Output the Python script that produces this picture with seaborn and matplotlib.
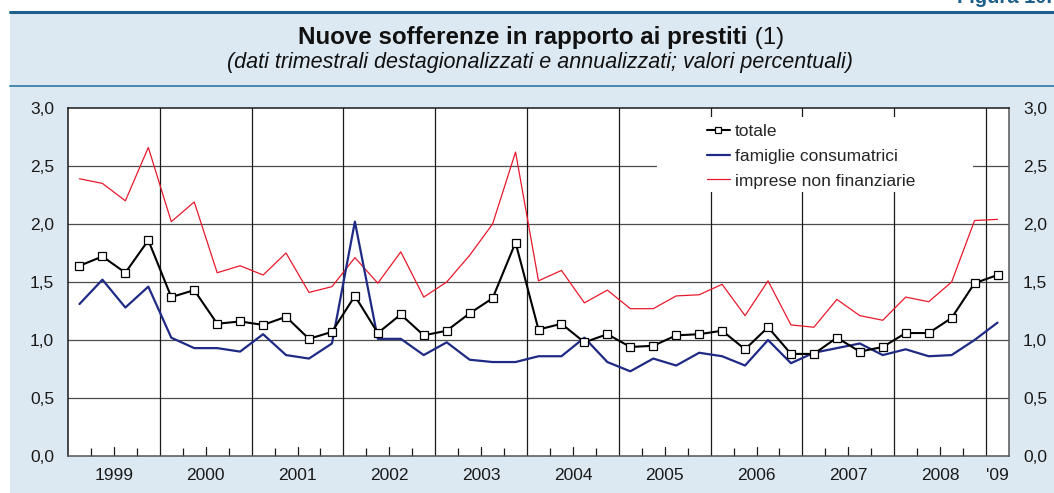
import numpy as np
import pandas as pd
import matplotlib
matplotlib.use("Agg")
import matplotlib.pyplot as plt
from matplotlib import font_manager
from matplotlib.patches import Rectangle
from matplotlib.lines import Line2D
import seaborn as sns

# --- data: quarterly series, 1999 Q1 - 2009 Q1 -----------------------------
years = [1999, 2000, 2001, 2002, 2003, 2004, 2005, 2006, 2007, 2008, 2009]
year_labels = ["1999", "2000", "2001", "2002", "2003", "2004",
               "2005", "2006", "2007", "2008", "'09"]
quarters = [f"{y}T{q}" for y in years for q in (1, 2, 3, 4)][:41]

totale = [1.64, 1.72, 1.58, 1.86, 1.37, 1.43, 1.14, 1.16, 1.13, 1.20, 1.01,
          1.07, 1.38, 1.06, 1.22, 1.04, 1.08, 1.23, 1.36, 1.84, 1.09, 1.14,
          0.98, 1.05, 0.94, 0.95, 1.04, 1.05, 1.08, 0.92, 1.11, 0.88, 0.88,
          1.02, 0.90, 0.94, 1.06, 1.06, 1.19, 1.49, 1.56]
famiglie = [1.31, 1.52, 1.28, 1.46, 1.02, 0.93, 0.93, 0.90, 1.05, 0.87, 0.84,
            0.97, 2.02, 1.01, 1.01, 0.87, 0.98, 0.83, 0.81, 0.81, 0.86, 0.86,
            1.02, 0.81, 0.73, 0.84, 0.78, 0.89, 0.86, 0.78, 1.00, 0.80, 0.89,
            0.93, 0.97, 0.87, 0.92, 0.86, 0.87, 1.00, 1.15]
imprese = [2.39, 2.35, 2.20, 2.66, 2.02, 2.19, 1.58, 1.64, 1.56, 1.75, 1.41,
           1.46, 1.71, 1.49, 1.76, 1.37, 1.50, 1.73, 2.00, 2.62, 1.51, 1.60,
           1.32, 1.43, 1.27, 1.27, 1.38, 1.39, 1.48, 1.21, 1.51, 1.13, 1.11,
           1.35, 1.21, 1.17, 1.37, 1.33, 1.50, 2.03, 2.04]
series_names = ["totale", "famiglie consumatrici", "imprese non finanziarie"]

n = len(quarters)
df = pd.DataFrame({
    "trimestre": np.tile(np.arange(n) + 0.5, 3),
    "valore": totale + famiglie + imprese,
    "serie": np.repeat(series_names, n),
})

# --- styling ----------------------------------------------------------------
sns.set_theme(style="white")
installed = {f.name for f in font_manager.fontManager.ttflist}
base_font = "Liberation Sans" if "Liberation Sans" in installed else "DejaVu Sans"
narrow_font = ("Liberation Sans Narrow" if "Liberation Sans Narrow" in installed
               else base_font)
plt.rcParams["font.family"] = [base_font, "DejaVu Sans"]

W, H = 1054, 493
fig = plt.figure(figsize=(W / 100, H / 100), dpi=100, facecolor="white")

panel_bg = "#dde9f2"
frame_blue = "#1d5f8a"
fig.patches.append(Rectangle((10 / W, 0), 1 - 10 / W, 1 - 12 / H,
                             transform=fig.transFigure, facecolor=panel_bg,
                             edgecolor="none", zorder=-5))
fig.lines.append(Line2D([10 / W, 1], [1 - 12 / H, 1 - 12 / H],
                        transform=fig.transFigure, color=frame_blue, lw=2.2))
fig.lines.append(Line2D([10 / W, 1], [1 - 86 / H, 1 - 86 / H],
                        transform=fig.transFigure, color="#3d7fab", lw=1.3))

fig.text(957 / W, 1 - 3 / H, "Figura 10.", ha="left", va="baseline",
         fontsize=14.5, fontweight="bold", color=frame_blue)

ax_l, ax_r, ax_t, ax_b = 68, 1009, 108, 456
ax = fig.add_axes([ax_l / W, 1 - ax_b / H, (ax_r - ax_l) / W, (ax_b - ax_t) / H])
ax.set_facecolor("white")

palette = {"totale": "black", "famiglie consumatrici": "#1f2a85",
           "imprese non finanziarie": "#e8192c"}
sub = df[df["serie"] == "imprese non finanziarie"]
sns.lineplot(data=sub, x="trimestre", y="valore", ax=ax,
             color=palette["imprese non finanziarie"],
             lw=0.9, label="imprese non finanziarie", zorder=3)
sub = df[df["serie"] == "famiglie consumatrici"]
sns.lineplot(data=sub, x="trimestre", y="valore", ax=ax,
             color=palette["famiglie consumatrici"],
             lw=1.6, label="famiglie consumatrici", zorder=4)
sub = df[df["serie"] == "totale"]
sns.lineplot(data=sub, x="trimestre", y="valore", ax=ax,
             color=palette["totale"], lw=1.5,
             marker="s", markersize=6, markerfacecolor="white",
             markeredgecolor="black", markeredgewidth=0.9, label="totale", zorder=5)

ax.set_xlim(0, n)
ax.set_ylim(0, 3.0)
ax.set_xlabel("")
ax.set_ylabel("")

# horizontal grid and yearly separators
for yv in [0.5, 1.0, 1.5, 2.0, 2.5]:
    ax.axhline(yv, color="#4d4d4d", lw=0.9, zorder=1)
for xv in range(4, n, 4):
    ax.axvline(xv, color="#1a1a1a", lw=0.9, zorder=1)

# y axis on both sides, Italian decimal comma
yt = [0.0, 0.5, 1.0, 1.5, 2.0, 2.5, 3.0]
ax.set_yticks(yt)
ax.set_yticklabels([f"{v:.1f}".replace(".", ",") for v in yt])
ax.tick_params(axis="y", which="both", left=False, right=False, length=0,
               labelleft=True, labelright=True, labelsize=12.5, pad=10,
               colors="#1a1a1a")

# x axis: year labels centred on each year, small inward quarter ticks
centers = [4 * i + 2 for i in range(len(year_labels) - 1)] + [n - 0.5]
ax.set_xticks(centers)
ax.set_xticklabels(year_labels)
ax.set_xticks([q for q in range(1, n) if q % 4 != 0], minor=True)
ax.tick_params(axis="x", which="major", length=0, pad=9, labelsize=12.5,
               colors="#1a1a1a")
ax.tick_params(axis="x", which="minor", bottom=True, direction="in",
               length=6, width=0.9, color="#1a1a1a")
for c in centers[:-1]:
    ax.axvline(c, ymin=0, ymax=9 / (ax_b - ax_t), color="#1a1a1a", lw=0.9, zorder=1)

for side, col in [("left", "#1a1a1a"), ("top", "#1a1a1a"),
                  ("right", "#555555"), ("bottom", "#555555")]:
    ax.spines[side].set_visible(True)
    ax.spines[side].set_color(col)
    ax.spines[side].set_linewidth(1.1)


def ax_frac(px, py):
    return (px - ax_l) / (ax_r - ax_l), (ax_b - py) / (ax_b - ax_t)


# white box behind the legend, hiding the grid there
bx0, by0 = ax_frac(657, 192)
bx1, by1 = ax_frac(973, 117)
ax.add_patch(Rectangle((bx0, by0), bx1 - bx0, by1 - by0, transform=ax.transAxes,
                       facecolor="white", edgecolor="none", zorder=8))

handles, labels = ax.get_legend_handles_labels()
order = [labels.index(s) for s in series_names]
leg = ax.legend([handles[i] for i in order], [labels[i] for i in order],
                loc="upper left", bbox_to_anchor=ax_frac(707, 124),
                frameon=False, fontsize=12.5, handlelength=1.32,
                handletextpad=0.29, labelspacing=0.55, borderpad=0,
                borderaxespad=0)
leg.set_zorder(10)
for h in leg.legend_handles:
    h.set_markersize(5)


# titles, sized to their measured widths
def fit_text(x, y, s, width_px, **kw):
    t = fig.text(x, y, s, **kw)
    r = fig.canvas.get_renderer()
    w = t.get_window_extent(r).width
    t.set_fontsize(t.get_fontsize() * width_px / w)
    return t


r = fig.canvas.get_renderer()
t1 = fit_text(0, 1 - 44 / H, "Nuove sofferenze in rapporto ai prestiti", 448,
              fontsize=16, fontweight="bold", family=narrow_font, ha="left",
              va="baseline", color="#111111")
t2 = fig.text(0, 1 - 44 / H, " (1)", fontsize=t1.get_fontsize(),
              family=narrow_font, ha="left", va="baseline", color="#111111")
w1 = t1.get_window_extent(r).width
w2 = t2.get_window_extent(r).width
x0 = 541 - (w1 + w2) / 2
t1.set_x(x0 / W)
t2.set_x((x0 + w1) / W)

fit_text(540 / W, 1 - 68 / H,
         "(dati trimestrali destagionalizzati e annualizzati; valori percentuali)",
         624, fontsize=13, style="italic", family=narrow_font, ha="center",
         va="baseline", color="#111111")

fig.savefig("out.png", dpi=100, facecolor="white")
